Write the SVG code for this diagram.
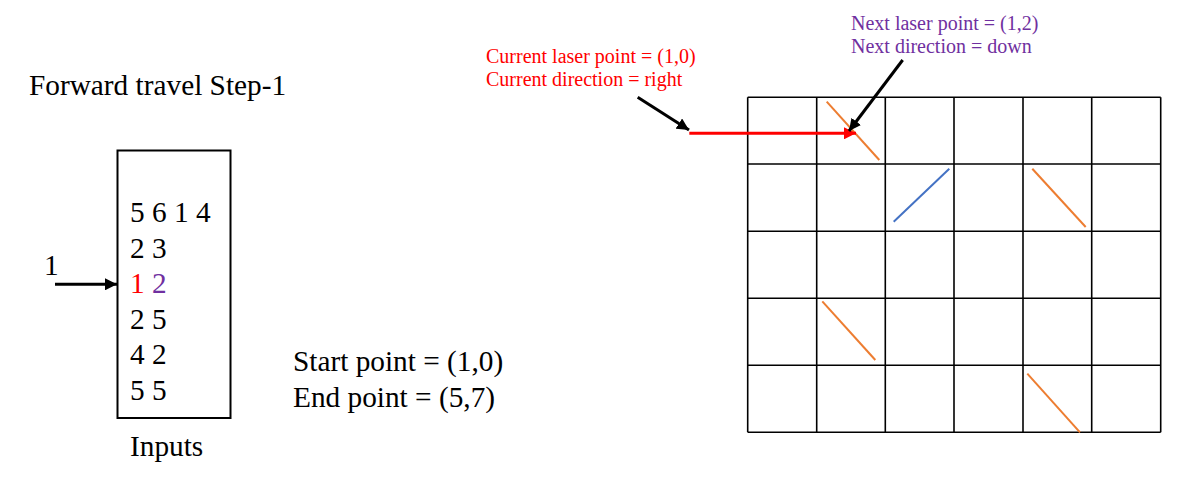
<svg xmlns="http://www.w3.org/2000/svg" width="1184" height="489" viewBox="0 0 1184 489">
<style>
.big{font-family:"Liberation Serif","Times New Roman",serif;font-size:29.3px;fill:#000}
.small{font-family:"Liberation Serif","Times New Roman",serif;font-size:20px}
.red{fill:#FF0000}
.purple{fill:#7030A0}
.grid line{stroke:#000;stroke-width:1.6}
.orange{stroke:#ED7D31;stroke-width:2}
.blue{stroke:#4472C4;stroke-width:2}
.blk{stroke:#000;stroke-width:3;fill:none}
</style>
<defs>
<marker id="ahB" markerUnits="userSpaceOnUse" markerWidth="14" markerHeight="12" refX="12" refY="6" orient="auto">
<path d="M0,0 L12,6 L0,12 Z" fill="#000"/>
</marker>
<marker id="ahR" markerUnits="userSpaceOnUse" markerWidth="14" markerHeight="12" refX="12" refY="6" orient="auto">
<path d="M0,0 L12,6 L0,12 Z" fill="#FF0000"/>
</marker>
</defs>
<rect width="1184" height="489" fill="#fff"/>
<g id="title"><text class="big" x="29" y="95">Forward travel Step-1</text></g>
<g id="inputs">
<rect x="117.5" y="150.5" width="113" height="267.5" fill="none" stroke="#000" stroke-width="2"/>
<text class="big" x="130" y="222">5 6 1 4</text>
<text class="big" x="130" y="257.5">2 3</text>
<text class="big" x="130" y="293"><tspan class="red">1</tspan> <tspan class="purple">2</tspan></text>
<text class="big" x="130" y="328.5">2 5</text>
<text class="big" x="130" y="364">4 2</text>
<text class="big" x="130" y="399.5">5 5</text>
<text class="big" x="130" y="456">Inputs</text>
</g>
<g id="pointer-label"><text class="big" x="44" y="275">1</text></g>
<g id="points">
<text class="big" x="293" y="371">Start point = (1,0)</text>
<text class="big" x="293" y="407">End point = (5,7)</text>
</g>
<g id="current-label">
<text class="small red" x="486" y="63">Current laser point = (1,0)</text>
<text class="small red" x="486" y="86">Current direction = right</text>
</g>
<g id="next-label">
<text class="small purple" x="851" y="30">Next laser point = (1,2)</text>
<text class="small purple" x="851" y="53">Next direction = down</text>
</g>
<g id="grid" class="grid">
<line x1="747.7" y1="97.3" x2="747.7" y2="432.3"/>
<line x1="816.7" y1="97.3" x2="816.7" y2="432.3"/>
<line x1="885.3" y1="97.3" x2="885.3" y2="432.3"/>
<line x1="954" y1="97.3" x2="954" y2="432.3"/>
<line x1="1023" y1="97.3" x2="1023" y2="432.3"/>
<line x1="1091.7" y1="97.3" x2="1091.7" y2="432.3"/>
<line x1="1160.7" y1="97.3" x2="1160.7" y2="432.3"/>
<line x1="747.7" y1="97.3" x2="1160.7" y2="97.3"/>
<line x1="747.7" y1="164" x2="1160.7" y2="164"/>
<line x1="747.7" y1="231.3" x2="1160.7" y2="231.3"/>
<line x1="747.7" y1="298.3" x2="1160.7" y2="298.3"/>
<line x1="747.7" y1="365.3" x2="1160.7" y2="365.3"/>
<line x1="747.7" y1="432.3" x2="1160.7" y2="432.3"/>
</g>
<g id="mirrors">
<line class="orange" x1="826.7" y1="101.7" x2="879.3" y2="160"/>
<line class="blue" x1="893.7" y1="221.7" x2="949.3" y2="168.7"/>
<line class="orange" x1="1032.3" y1="168.7" x2="1085.7" y2="227"/>
<line class="orange" x1="822.3" y1="301.3" x2="875.3" y2="360"/>
<line class="orange" x1="1027.3" y1="373.7" x2="1080" y2="432.3"/>
</g>
<g id="connectors">
<line class="blk" x1="55" y1="284.3" x2="117" y2="284.3" marker-end="url(#ahB)"/>
<line x1="689.3" y1="133.3" x2="856" y2="133.3" stroke="#FF0000" stroke-width="3" marker-end="url(#ahR)"/>
<line class="blk" x1="637.7" y1="97.3" x2="689" y2="130" marker-end="url(#ahB)"/>
<line class="blk" x1="902.7" y1="60" x2="849" y2="131" marker-end="url(#ahB)"/>
</g>
</svg>
